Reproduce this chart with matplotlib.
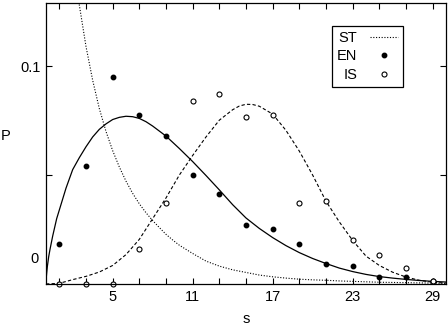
import matplotlib
matplotlib.use("Agg")
import matplotlib.pyplot as plt
import matplotlib.transforms as mtransforms

plt.rcParams['font.family'] = ['Liberation Sans', 'DejaVu Sans']
plt.rcParams['font.size'] = 10.5

# measured points
s_pts = [1, 3, 5, 7, 9, 11, 13, 15, 17, 19, 21, 23, 25, 27, 29]
en_pts = [0.0182, 0.0541, 0.0948, 0.0778, 0.0679, 0.0502, 0.0411, 0.0271,
          0.0251, 0.0182, 0.0094, 0.0083, 0.0034, 0.0032, 0.0012]
is_pts = [0.0, 0.0, 0.0, 0.0162, 0.0372, 0.0839, 0.0870, 0.0768,
          0.0778, 0.0372, 0.0381, 0.0202, 0.0132, 0.0072, 0.0012]

# curves
s_en = [0, 0.02, 0.05, 0.1, 0.2, 0.3, 0.5, 0.8, 1, 1.5, 2, 2.5, 3, 3.5, 4,
        4.5, 5, 5.5, 6, 6.5, 7, 7.5, 8, 9, 10, 11, 12, 13, 14, 15, 16, 17,
        18, 19, 20, 21, 22, 23, 24, 25, 26, 27, 28, 29, 30]
en_curve = [0, 0.003, 0.005, 0.008, 0.0125, 0.0159, 0.022, 0.030, 0.034,
            0.044, 0.0525, 0.058, 0.063, 0.0675, 0.071, 0.0735, 0.0755,
            0.0765, 0.077, 0.0768, 0.0760, 0.0745, 0.0725, 0.0679, 0.0622,
            0.0562, 0.0498, 0.0432, 0.0364, 0.0303, 0.0255, 0.0213, 0.0176,
            0.0144, 0.0117, 0.0094, 0.0073, 0.0057, 0.0044, 0.0034, 0.0027,
            0.0021, 0.0016, 0.0012, 0.0009]
s_is = [0, 1, 2, 3, 4, 5, 6, 7, 8, 9, 10, 11, 12, 13, 14, 14.5, 15, 15.5,
        16, 17, 18, 19, 20, 21, 22, 23, 24, 25, 26, 27, 28, 29, 30]
is_curve = [0, 0.0003, 0.002, 0.0035, 0.0055, 0.0085, 0.0135, 0.0205, 0.030,
            0.0395, 0.050, 0.059, 0.0675, 0.0752, 0.0800, 0.0817, 0.0825,
            0.0824, 0.0816, 0.078, 0.0705, 0.061, 0.050, 0.038, 0.0285, 0.020,
            0.0128, 0.0085, 0.0054, 0.0032, 0.0017, 0.0008, 0.0004]
s_st = [2, 2.5, 3, 3.5, 4, 4.5, 5, 5.5, 6, 6.5, 7, 7.5, 8, 8.5, 9, 9.5, 10,
        11, 12, 13, 14, 15, 16, 17, 18, 19, 20, 21, 22, 23, 24, 25, 26, 27,
        28, 29, 30]
st_curve = [0.148, 0.128, 0.109, 0.0935, 0.0805, 0.0700, 0.0612, 0.0537,
            0.0472, 0.0416, 0.0368, 0.0327, 0.0291, 0.0259, 0.0228, 0.0202,
            0.0178, 0.0140, 0.0105, 0.0082, 0.0065, 0.0053, 0.0041, 0.0033,
            0.0027, 0.0022, 0.0019, 0.0017, 0.0014, 0.0012, 0.0010, 0.0008,
            0.0007, 0.0006, 0.0005, 0.0004, 0.0003]

x_ticks = list(range(1, 30, 2))
x_labels = ['5', '11', '17', '23', '29']


def main():
    fig = plt.figure(figsize=(4.48, 3.25), dpi=100)
    ax = fig.add_axes([0.1027, 0.1262, 0.8928, 0.8646])

    ax.plot(s_st, st_curve, color='black', lw=0.8, ls=(0, (1, 1.5)), label='ST')
    ax.plot(s_en, en_curve, color='black', lw=0.9, ls='-')
    ax.plot(s_is, is_curve, color='black', lw=0.8, ls=(0, (3, 2)))
    ax.plot(s_pts, en_pts, 'o', color='black', ms=3.2, ls='none', label='EN',
            clip_on=False)
    ax.plot(s_pts, is_pts, 'o', mfc='white', mec='black', mew=0.8, ms=3.6,
            ls='none', label='IS', clip_on=False)

    ax.set_xlim(0, 30)
    ax.set_ylim(0, 0.129)
    ax.set_xticks(x_ticks)
    ax.set_xticklabels([str(t) if str(t) in x_labels else '' for t in x_ticks])
    ax.set_yticks([0.05, 0.1])
    ax.set_yticklabels(['', '0.1'])
    ax.tick_params(direction='in', length=4, width=0.8, top=True, right=True,
                   pad=4, labelsize=10.5)
    for sp in ax.spines.values():
        sp.set_linewidth(0.9)

    trans = mtransforms.blended_transform_factory(ax.transAxes, ax.transData)
    ax.text(-0.0175, 0.0113, '0', transform=trans, ha='right', va='center',
            fontsize=10.5)

    ax.set_xlabel('s', labelpad=6)
    ax.set_ylabel('P', rotation=0, labelpad=0)
    ax.yaxis.set_label_coords(-0.1, 0.5)

    leg = ax.legend(loc='upper right', bbox_to_anchor=(0.893, 0.919),
                    markerfirst=False, frameon=True, fancybox=False,
                    edgecolor='black', framealpha=1, handlelength=1.9,
                    handletextpad=0.9, labelspacing=0.3, borderpad=0.35,
                    borderaxespad=0, fontsize=10.5)
    leg.get_frame().set_linewidth(0.9)

    fig.savefig('out.png', dpi=100)


if __name__ == "__main__":
    main()
